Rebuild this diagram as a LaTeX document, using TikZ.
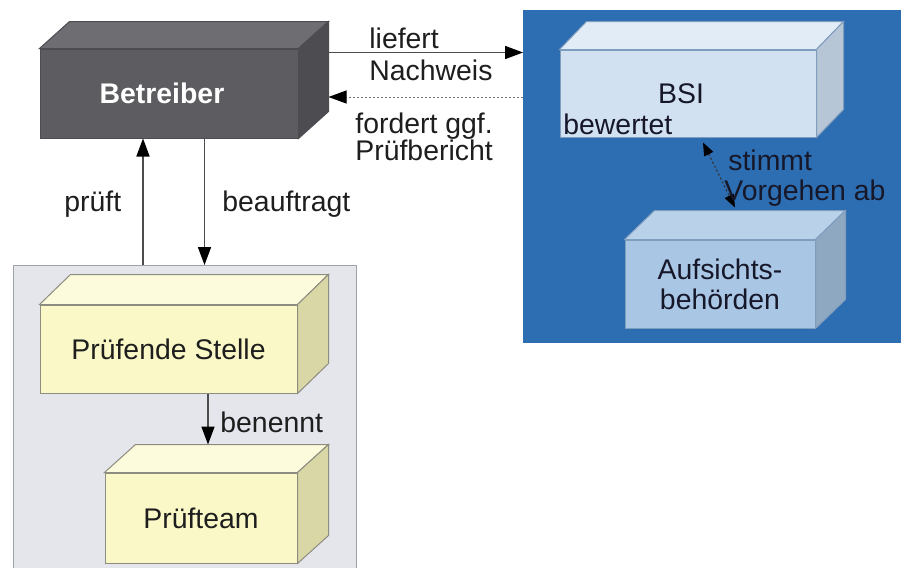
\documentclass[tikz,border=0pt]{standalone}
\usepackage{fontspec}
\setmainfont{Liberation Sans}
\usetikzlibrary{calc,arrows.meta}
\definecolor{betfront}{HTML}{5C5C61}
\definecolor{bettop}{HTML}{6D6D72}
\definecolor{betright}{HTML}{4C4C51}
\definecolor{bluebg}{HTML}{2D6DB2}
\definecolor{bsifront}{HTML}{D2E1F1}
\definecolor{bsitop}{HTML}{E2ECF6}
\definecolor{bsiright}{HTML}{B7C6D6}
\definecolor{auffront}{HTML}{A9C6E4}
\definecolor{auftop}{HTML}{B9D2EA}
\definecolor{aufright}{HTML}{8EA8C2}
\definecolor{bluebord}{HTML}{7F9DBD}
\definecolor{yelfront}{HTML}{FAF8C6}
\definecolor{yeltop}{HTML}{FCFBDC}
\definecolor{yelright}{HTML}{D9D7A6}
\definecolor{yelbord}{HTML}{8C8C80}
\definecolor{grayfill}{HTML}{E4E6EC}
\definecolor{graybord}{HTML}{9EA2A8}
\definecolor{txt}{HTML}{1E1E1E}
\definecolor{bluetxt}{HTML}{16182A}
\newcommand\cubefaces[6]{%
  \filldraw[fill=#4,draw=#6,line width=0.5pt] (#1.north west) -- ++(#2,-#3) -- ($(#1.north east)+(#2,-#3)$) -- (#1.north east) -- cycle;
  \filldraw[fill=#5,draw=#6,line width=0.5pt] (#1.north east) -- ++(#2,-#3) -- ($(#1.south east)+(#2,-#3)$) -- (#1.south east) -- cycle;}
\begin{document}
\begin{tikzpicture}[x=0.5pt,y=-0.5pt,
  every node/.style={font=\fontsize{14.2}{15}\selectfont,inner sep=0pt,text=txt},
  face/.style={rectangle,inner sep=0pt,line width=0.5pt},
  panel/.style={rectangle,inner sep=0pt,line width=0.6pt},
  lbl/.style={anchor=base west},
  mlbl/.style={anchor=north west,align=left},
  arr/.style={draw=black!70,line width=0.8pt,-{Triangle[length=9pt,width=6.5pt,black]}},
  dotarr/.style={draw=black!55,line width=0.5pt,dash pattern=on 1pt off 1pt,-{Triangle[length=9pt,width=6.5pt,black]}},
  dotarr2/.style={draw=black!80,line width=0.6pt,dash pattern=on 1pt off 1.2pt,{Triangle[length=6.5pt,width=5pt,black]}-{Triangle[length=6.5pt,width=5pt,black]}}]
\useasboundingbox (0,0) rectangle (901,568);
\fill[white] (0,0) rectangle (901,568);

% panels
\node[panel,fill=grayfill,draw=graybord,minimum width=171.5pt,minimum height=160pt,anchor=north west] (grp) at (13,265) {};
\node[panel,fill=bluebg,draw=bluebg,minimum width=190pt,minimum height=166pt,anchor=north west] (blue) at (523,10) {};

% Betreiber
\node[face,fill=betfront,draw=betright,minimum width=129pt,minimum height=44.5pt,text=white,font=\fontsize{14.2}{15}\selectfont\bfseries] (bet) at (169,93.5) {\hspace*{-7pt}Betreiber};
\cubefaces{bet}{30}{27}{bettop}{betright}{betright}

% BSI
\node[face,fill=bsifront,draw=bluebord,minimum width=128pt,minimum height=43.5pt,text=bluetxt] (bsi) at (688,93.5) {\hspace*{-7pt}BSI};
\cubefaces{bsi}{27}{28}{bsitop}{bsiright}{bluebord}

% Aufsichtsbehoerden
\node[face,fill=auffront,draw=bluebord,minimum width=95pt,minimum height=44pt,text=bluetxt,align=center,font=\fontsize{14.2}{15}\selectfont] (auf) at (720,284) {Aufsichts-\\behörden};
\cubefaces{auf}{30}{29}{auftop}{aufright}{bluebord}

% Pruefende Stelle
\node[face,fill=yelfront,draw=yelbord,minimum width=128.5pt,minimum height=44pt] (ps) at (168.5,349) {Prüfende Stelle};
\cubefaces{ps}{31}{30}{yeltop}{yelright}{yelbord}

% Prueftteam
\node[face,fill=yelfront,draw=yelbord,minimum width=96pt,minimum height=45pt] (pt) at (201,518) {Prüfteam};
\cubefaces{pt}{31}{28}{yeltop}{yelright}{yelbord}

% connectors
\coordinate (lstart) at ($(bet.north east)+(30,4)$);
\coordinate (fend) at ($(bet.east)+(30,3.5)$);
\draw[arr] (lstart) -- (lstart -| blue.west);
\draw[dotarr] (fend -| blue.west) -- (fend);
\draw[arr] ([xshift=65pt]grp.north west) -- ([xshift=65pt]grp.north west |- bet.south);
\draw[arr] ([xshift=82.5pt]bet.south west) -- ([xshift=82.5pt]bet.south west |- grp.north);
\coordinate (pttop) at ($(pt.north)+(7,-28)$);
\draw[arr] (ps.south -| pttop) -- (pttop);
\draw[dotarr2] ($(bsi.south)+(15,5)$) -- ($(auf.north)+(15,-32)$);

% labels
\node[mlbl] (liefert) at (369,28) {liefert\\[1pt]Nachweis};
\node[mlbl] (fordert) at (355,113) {fordert ggf.\\[-1.5pt]Prüfbericht};
\node[lbl] (prueft) at (64,211) {prüft};
\node[lbl] (beauftragt) at (222,211) {beauftragt};
\node[lbl] (benennt) at (220,432) {benennt};
\node[lbl,text=bluetxt] (bewertet) at (563,134) {bewertet};
\node[mlbl,text=bluetxt] (stimmt) at (728,150) {stimmt\\[0pt]\hspace*{-2pt}Vorgehen ab};
\end{tikzpicture}
\end{document}
